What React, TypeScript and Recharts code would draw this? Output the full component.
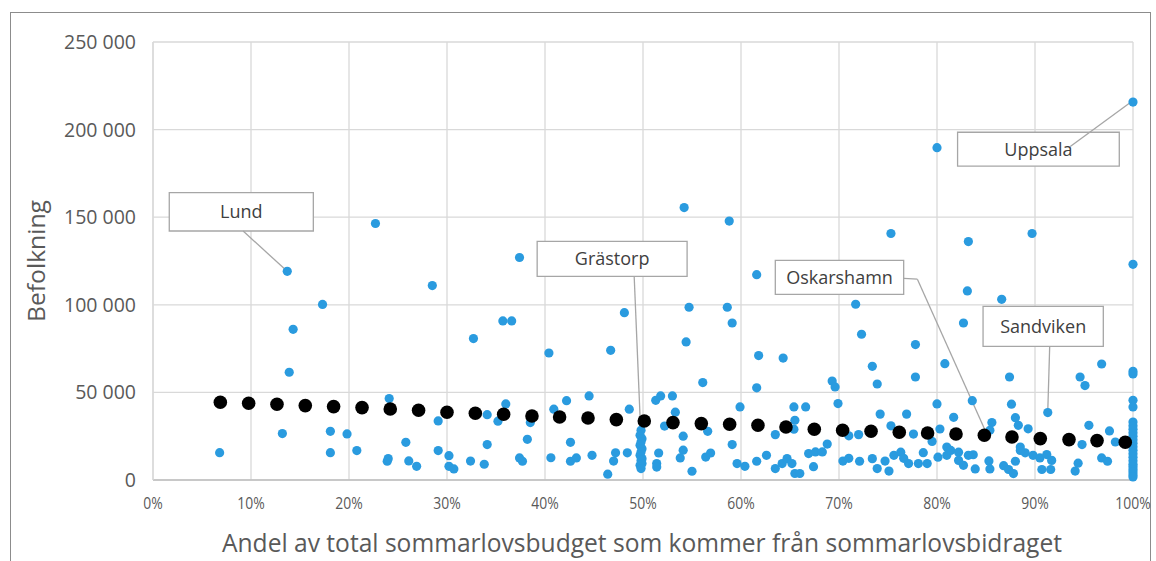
import React from 'react';
import {
  ScatterChart,
  Scatter,
  XAxis,
  YAxis,
  CartesianGrid,
  ReferenceArea,
  ReferenceLine,
  Label,
} from 'recharts';

// Kommuner: [andel sommarlovsbidrag (%), befolkning]
const kommunerUnder35: [number, number][] = [
  [6.8, 15600], [13.2, 26500], [13.7, 119100], [13.9, 61500], [14.3, 86000],
  [17.3, 100200], [18.1, 27800], [18.1, 15600], [19.8, 26300], [20.8, 16800],
  [22.7, 146400], [24.1, 46500], [23.9, 10700], [24.0, 12200], [25.8, 21500],
  [26.1, 10900], [26.9, 7800], [28.5, 111000], [29.1, 33700], [29.1, 16800],
  [30.2, 13900], [30.2, 7800], [30.7, 6300], [32.4, 10800], [32.7, 80700],
  [33.8, 9000], [34.1, 37300], [34.1, 20200],
];

const kommuner35till50: [number, number][] = [
  [35.2, 33600], [35.7, 90800], [36.6, 90800], [36.0, 43400], [37.4, 127000],
  [38.5, 32800], [38.2, 23200], [37.4, 12600], [37.7, 10700], [40.4, 72500],
  [40.9, 40400], [40.6, 12700], [42.2, 45300], [42.6, 21500], [42.6, 10700],
  [43.2, 12600], [44.5, 48000], [44.8, 14100], [46.4, 3300], [46.7, 74000],
  [47.0, 10800], [47.2, 15500], [48.1, 95500], [48.4, 15500], [48.6, 40400],
  [49.8, 28400], [49.7, 25500], [49.9, 23600], [49.8, 21700], [49.7, 19800],
  [49.9, 17900], [49.8, 16000], [49.7, 14100], [49.9, 12200], [49.8, 11200],
  [49.9, 9400], [49.7, 8400], [49.8, 6500],
];

const kommuner50till70: [number, number][] = [
  [51.3, 45500], [51.8, 48000], [53.0, 48000], [53.3, 38700], [52.2, 30800],
  [51.6, 15400], [51.4, 9400], [51.4, 7400], [54.2, 155500], [54.7, 98600],
  [54.4, 78800], [54.1, 25000], [54.1, 17000], [53.8, 12600], [55.0, 5000],
  [56.1, 55600], [56.6, 27800], [56.4, 13100], [56.9, 15400], [58.8, 147800],
  [58.6, 98600], [59.1, 89600], [59.1, 20200], [59.9, 41700], [59.6, 9400],
  [60.4, 7800], [61.6, 117200], [61.8, 71000], [61.6, 52600], [61.6, 10700],
  [62.6, 14100], [63.5, 25900], [63.5, 6500], [64.2, 9400], [64.7, 12200],
  [65.2, 9400], [65.5, 3700], [66.0, 3700], [64.3, 69600], [65.4, 41700],
  [66.6, 41700], [65.5, 34100], [65.4, 29000], [66.9, 15100], [67.6, 16000],
  [68.3, 16000], [67.4, 7600], [68.8, 20500], [69.3, 56500], [69.6, 53100],
  [69.9, 43600],
];

const kommuner70till85: [number, number][] = [
  [70.4, 10800], [71.0, 12400], [71.0, 25200], [72.0, 25900], [72.1, 10700],
  [71.7, 100300], [72.3, 83200], [73.4, 64900], [73.9, 54800], [74.2, 37600],
  [75.3, 30900], [73.4, 12200], [73.9, 6500], [74.7, 10800], [75.1, 5100],
  [75.3, 140700], [75.6, 14100], [76.3, 15900], [76.6, 12400], [77.1, 9400],
  [76.9, 37600], [77.6, 26200], [77.8, 77300], [77.8, 58800], [78.1, 9400],
  [79.0, 9400], [78.6, 15600], [79.5, 22000], [80.0, 189700], [80.0, 43400],
  [80.3, 29100], [80.8, 66400], [80.1, 13000], [81.0, 18800], [81.0, 14100],
  [81.4, 16900], [81.7, 35800], [82.2, 15900], [82.2, 11200], [82.7, 8400],
  [82.7, 89600], [83.1, 107900], [83.2, 136100], [83.6, 45300], [83.2, 14100],
  [83.7, 14400], [83.9, 6300], [85.3, 10900], [85.4, 6300], [85.6, 32800],
  [85.4, 28400],
];

const kommuner85till99: [number, number][] = [
  [86.6, 103100], [86.8, 8200], [87.3, 6000], [87.8, 3650], [87.4, 58800],
  [87.6, 43300], [88.0, 35600], [88.3, 31200], [88.0, 10700], [88.5, 18800],
  [89.3, 29200], [89.0, 15500], [89.8, 14100], [88.5, 16900], [89.7, 140700],
  [90.5, 12600], [90.7, 6000], [91.2, 14500], [91.7, 11200], [91.6, 6000],
  [91.3, 38500], [94.1, 5100], [94.4, 9600], [94.8, 20200], [94.6, 58800],
  [95.1, 53900], [95.5, 31200], [96.8, 66200], [96.8, 12600], [97.4, 10700],
  [97.6, 28000], [98.2, 21700],
];

const kommuner100: number[] = [
  215700, 123100, 62000, 60500, 45500, 41700, 33100, 31000, 29000, 27000,
  25000, 23000, 21000, 19000, 17000, 15000, 13000, 11000, 9000, 7500, 6000,
  4500, 3000, 1700,
];

// Genomsnittlig befolkning per andelsintervall (svarta punkter)
const trendX = [
  6.87, 9.76, 12.65, 15.54, 18.43, 21.33, 24.21, 27.1, 30.0, 32.89, 35.78,
  38.67, 41.49, 44.39, 47.28, 50.13, 53.06, 55.95, 58.84, 61.73, 64.59, 67.48,
  70.37, 73.27, 76.15, 79.04, 81.94, 84.83, 87.65, 90.54, 93.47, 96.33, 99.21,
];
const trendY = [
  44350, 43780, 43210, 42470, 41900, 41330, 40530, 39780, 38640, 38070, 37500,
  36530, 35960, 35390, 34480, 33680, 32760, 32190, 31790, 31220, 30250, 28940,
  28370, 27800, 27230, 26830, 26260, 25520, 24550, 23640, 23070, 22490, 21520,
];

const xTicks = [0, 10, 20, 30, 40, 50, 60, 70, 80, 90, 100];
const yTicks = [0, 50000, 100000, 150000, 200000, 250000];

const font = "'Open Sans', 'Noto Sans', sans-serif";
const blue = '#2A9BDF';
const boxStroke = '#a6a6a6';

const kommunData = [
  ...kommunerUnder35,
  ...kommuner35till50,
  ...kommuner50till70,
  ...kommuner70till85,
  ...kommuner85till99,
].map(([x, y]) => ({ x, y }))
  .concat(kommuner100.map((y) => ({ x: 100, y })));

const trendData = trendX.map((x, i) => ({ x, y: trendY[i] }));

const fmtThousands = (v: number) =>
  v === 0 ? '0' : String(v).replace(/\B(?=(\d{3})+(?!\d))/g, ' ');

const boxLabel = (value: string) => ({
  value,
  position: 'center' as const,
  fill: '#404040',
  fontSize: 18,
  fontFamily: font,
});

// smal x-tick, som i originalet
const XTick = ({ x, y, payload }: any) => (
  <text
    x={x}
    y={y}
    dy="0.71em"
    textAnchor="middle"
    fill="#595959"
    fontSize={17}
    fontFamily={font}
    transform={`translate(${x} 0) scale(0.82 1) translate(${-x} 0)`}
  >
    {`${payload.value}%`}
  </text>
);

export default function App() {
  return (
    <div
      style={{
        position: 'absolute',
        left: 0,
        top: 0,
        width: 1156,
        height: 561,
        overflow: 'hidden',
        background: '#fff',
      }}
    >
      <div
        style={{
          position: 'absolute',
          left: 10,
          top: 12,
          width: 1139,
          height: 600,
          border: '1px solid #8c8c8c',
        }}
      />
      <div style={{ position: 'absolute', left: 0, top: 0 }}>
        <ScatterChart
          width={1156}
          height={561}
          margin={{ top: 42, right: 23, bottom: 0, left: 0 }}
        >
          <CartesianGrid stroke="#d9d9d9" strokeWidth={1.3} />
          <XAxis
            type="number"
            dataKey="x"
            domain={[0, 100]}
            ticks={xTicks}
            height={81}
            axisLine={{ stroke: '#bfbfbf', strokeWidth: 1.5 }}
            tickLine={false}
            tickMargin={11}
            tick={<XTick />}
          >
            <Label
              content={({ viewBox }: any) => (
                <text
                  x={viewBox.x + viewBox.width / 2 - 1}
                  y={viewBox.y + 72}
                  textAnchor="middle"
                  textLength={840}
                  lengthAdjust="spacingAndGlyphs"
                  fill="#595959"
                  fontSize={25}
                  fontFamily={font}
                >
                  Andel av total sommarlovsbudget som kommer från sommarlovsbidraget
                </text>
              )}
            />
          </XAxis>
          <YAxis
            type="number"
            dataKey="y"
            domain={[0, 250000]}
            ticks={yTicks}
            tickFormatter={fmtThousands}
            width={153}
            axisLine={{ stroke: '#d9d9d9', strokeWidth: 1.3 }}
            tickLine={false}
            tickMargin={11}
            tick={{ fill: '#595959', fontSize: 19.5, fontFamily: font }}
          >
            <Label
              content={() => (
                <text
                  x={45}
                  y={261}
                  transform="rotate(-90 45 261)"
                  textAnchor="middle"
                  textLength={122}
                  lengthAdjust="spacingAndGlyphs"
                  fill="#595959"
                  fontSize={24}
                  fontFamily={font}
                >
                  Befolkning
                </text>
              )}
            />
          </YAxis>

          <ReferenceArea x1={1.66} x2={16.36} y1={142130} y2={164050} fill="#fff" fillOpacity={1} stroke={boxStroke} strokeWidth={1.3} label={boxLabel('Lund')} />
          <ReferenceArea x1={39.2} x2={54.5} y1={116230} y2={136150} fill="#fff" fillOpacity={1} stroke={boxStroke} strokeWidth={1.3} label={boxLabel('Grästorp')} />
          <ReferenceArea x1={63.5} x2={76.6} y1={106000} y2={125400} fill="#fff" fillOpacity={1} stroke={boxStroke} strokeWidth={1.3} label={boxLabel('Oskarshamn')} />
          <ReferenceArea x1={84.7} x2={96.97} y1={76320} y2={99150} fill="#fff" fillOpacity={1} stroke={boxStroke} strokeWidth={1.3} label={boxLabel('Sandviken')} />
          <ReferenceArea x1={82.1} x2={98.6} y1={179100} y2={198500} fill="#fff" fillOpacity={1} stroke={boxStroke} strokeWidth={1.3} label={boxLabel('Uppsala')} />

          <ReferenceLine segment={[{ x: 9.2, y: 142100 }, { x: 13.7, y: 119100 }]} stroke={boxStroke} strokeWidth={1.3} />
          <ReferenceLine segment={[{ x: 49.1, y: 116300 }, { x: 49.9, y: 9400 }]} stroke={boxStroke} strokeWidth={1.3} />
          <ReferenceLine segment={[{ x: 76.6, y: 115100 }, { x: 78.0, y: 114600 }]} stroke={boxStroke} strokeWidth={1.3} />
          <ReferenceLine segment={[{ x: 78.0, y: 114600 }, { x: 85.0, y: 27200 }]} stroke={boxStroke} strokeWidth={1.3} />
          <ReferenceLine segment={[{ x: 91.5, y: 76300 }, { x: 91.3, y: 38500 }]} stroke={boxStroke} strokeWidth={1.3} />
          <ReferenceLine segment={[{ x: 93.6, y: 190400 }, { x: 99.8, y: 215700 }]} stroke={boxStroke} strokeWidth={1.3} />

          <Scatter
            data={kommunData}
            isAnimationActive={false}
            shape={(p: any) => <circle cx={p.cx} cy={p.cy} r={4.6} fill={blue} />}
          />
          <Scatter
            data={trendData}
            isAnimationActive={false}
            shape={(p: any) => <circle cx={p.cx} cy={p.cy} r={6.8} fill="#000" />}
          />
        </ScatterChart>
      </div>
    </div>
  );
}
